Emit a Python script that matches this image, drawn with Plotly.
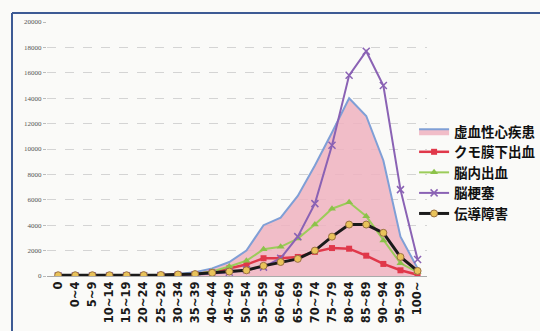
import plotly.graph_objects as go

# Age groups (x categories)
age_groups = ["0", "0~4", "5~9", "10~14", "15~19", "20~24", "25~29", "30~34",
              "35~39", "40~44", "45~49", "50~54", "55~59", "60~64", "65~69",
              "70~74", "75~79", "80~84", "85~89", "90~94", "95~99", "100~"]

# Counts per age group
ischemic_heart = [10, 10, 10, 20, 30, 50, 80, 150, 300, 600, 1100, 2000, 4000,
                  4600, 6300, 8700, 11300, 14000, 12600, 9100, 3100, 600]
subarachnoid = [0, 5, 5, 10, 20, 40, 60, 100, 150, 300, 600, 900, 1400, 1400,
                1500, 1900, 2200, 2150, 1600, 950, 450, 100]
intracerebral = [0, 5, 5, 10, 20, 30, 50, 80, 150, 350, 750, 1200, 2100, 2300,
                 2950, 4050, 5300, 5800, 4700, 2800, 1000, 300]
infarction = [0, 5, 5, 5, 10, 20, 30, 50, 100, 200, 300, 500, 700, 1400, 3100,
              5700, 10300, 15800, 17700, 15000, 6800, 1300]
conduction = [60, 60, 60, 60, 60, 70, 80, 120, 150, 250, 350, 450, 800, 1100,
              1350, 2000, 3100, 4050, 4050, 3400, 1500, 400]

y_ticks = list(range(0, 20001, 2000))

fig = go.Figure()

fig.add_trace(go.Scatter(
    x=age_groups, y=ischemic_heart, name="虚血性心疾患", mode="lines",
    fill="tozeroy", fillcolor="rgba(238,178,192,0.85)",
    line=dict(color="#7f9fd6", width=2),
))
fig.add_trace(go.Scatter(
    x=age_groups, y=subarachnoid, name="クモ膜下出血", mode="lines+markers",
    line=dict(color="#e0384a", width=2.5),
    marker=dict(symbol="square", size=6, color="#e0384a"),
))
fig.add_trace(go.Scatter(
    x=age_groups, y=intracerebral, name="脳内出血", mode="lines+markers",
    line=dict(color="#9ccc5a", width=2),
    marker=dict(symbol="triangle-up", size=7, color="#8cc24a"),
))
fig.add_trace(go.Scatter(
    x=age_groups, y=infarction, name="脳梗塞", mode="lines+markers",
    line=dict(color="#8a62b4", width=2),
    marker=dict(symbol="x-thin", size=7, line=dict(color="#8a62b4", width=1.5)),
))
fig.add_trace(go.Scatter(
    x=age_groups, y=conduction, name="伝導障害", mode="lines+markers",
    line=dict(color="#1a1a1a", width=3),
    marker=dict(symbol="circle", size=7, color="#e9c35a",
                line=dict(color="#9a7040", width=1)),
))

fig.update_layout(
    width=540, height=331,
    margin=dict(l=47, r=113, t=22, b=55, autoexpand=False),
    paper_bgcolor="#fafaf8", plot_bgcolor="#fafaf8",
    showlegend=True,
    legend=dict(
        x=0.966, y=0.63, xanchor="left", yanchor="top",
        bgcolor="rgba(0,0,0,0)", itemwidth=30, tracegroupgap=0,
        borderwidth=0,
        font=dict(family="Noto Sans CJK JP", size=13.5, color="#111",
                  weight=700),
    ),
    xaxis=dict(
        type="category", range=[-0.65, 21.55], tickangle=-90,
        tickfont=dict(family="DejaVu Sans", size=11.5, color="#1a1a1a",
                      weight=700),
        showgrid=False, showline=True, linecolor="#aaaaaa", linewidth=1,
        ticks="", zeroline=False,
    ),
    yaxis=dict(
        range=[0, 20000], tickvals=y_ticks,
        ticktext=[str(v) for v in y_ticks],
        tickfont=dict(family="Liberation Serif", size=7, color="#555"),
        showgrid=True, gridcolor="#d4d4d4", griddash="dash", gridwidth=1,
        ticks="outside", ticklen=3, tickcolor="#bbbbbb",
        showline=False, zeroline=False,
    ),
    shapes=[
        dict(type="line", xref="paper", yref="paper",
             x0=-35 / 380, x1=1.4, y0=1 + 9 / 254, y1=1 + 9 / 254,
             line=dict(color="#3d5a94", width=2)),
        dict(type="line", xref="paper", yref="paper",
             x0=-35 / 380, x1=-35 / 380, y0=1 + 9 / 254, y1=-0.3,
             line=dict(color="#3d5a94", width=2)),
    ],
)

fig.write_html("out.html")
